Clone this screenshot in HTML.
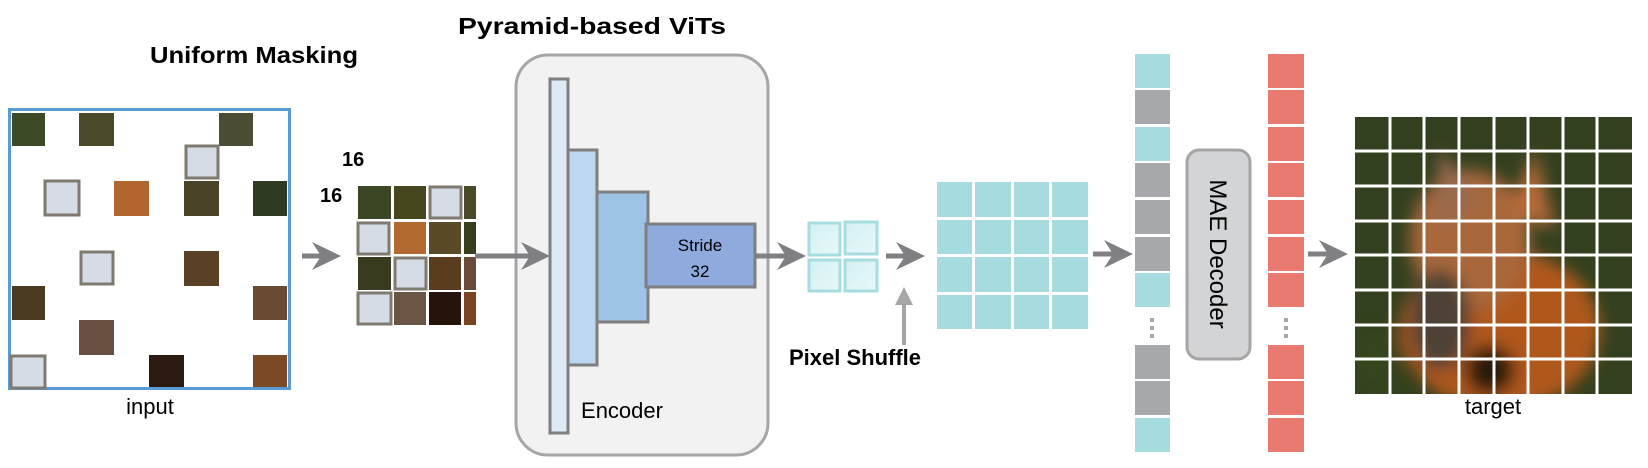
<!DOCTYPE html>
<html><head><meta charset="utf-8"><style>html,body{margin:0;padding:0;background:#fff}svg{display:block}text{font-family:"Liberation Sans",sans-serif}</style></head>
<body>
<svg width="1648" height="468" viewBox="0 0 1648 468" xmlns="http://www.w3.org/2000/svg">
<defs>
<linearGradient id="lg" x1="0" y1="0" x2="1" y2="1"><stop offset="0" stop-color="#d3f0f2"/><stop offset="1" stop-color="#e8f8f9"/></linearGradient>
<clipPath id="tc"><rect x="1355" y="117" width="277" height="277"/></clipPath>
<filter id="bl"><feGaussianBlur stdDeviation="8"/></filter>
</defs>

<text x="150" y="63" font-size="23" font-weight="bold" textLength="208" lengthAdjust="spacingAndGlyphs">Uniform Masking</text>
<text x="458" y="34" font-size="23" font-weight="bold" textLength="268" lengthAdjust="spacingAndGlyphs">Pyramid-based ViTs</text>

<rect x="9.5" y="109.5" width="280" height="279" fill="#fff" stroke="#5b9bd5" stroke-width="3"/>
<g>
<rect x="12" y="113" width="33" height="33" fill="#3d4a26"/>
<rect x="79" y="113" width="35" height="33" fill="#4a4a28"/>
<rect x="219" y="113" width="34" height="33" fill="#4b4c34"/>
<rect x="114" y="181" width="35" height="35" fill="#b0662e"/>
<rect x="184" y="181" width="35" height="35" fill="#4a4226"/>
<rect x="253" y="181" width="34" height="35" fill="#2f3a22"/>
<rect x="184" y="251" width="35" height="35" fill="#5a4024"/>
<rect x="12" y="286" width="33" height="34" fill="#4a3a22"/>
<rect x="253" y="286" width="34" height="34" fill="#6a4a30"/>
<rect x="79" y="320" width="35" height="35" fill="#6a5040"/>
<rect x="149" y="355" width="35" height="32" fill="#2a1a10"/>
<rect x="253" y="355" width="34" height="32" fill="#7a4a26"/>
</g>
<g fill="#d6dce5" stroke="#7f7a70" stroke-width="3">
<rect x="186" y="146" width="32" height="32"/>
<rect x="45" y="181" width="34" height="34"/>
<rect x="81" y="252" width="32" height="32"/>
<rect x="11" y="356" width="34" height="32"/>
</g>
<text x="150" y="414" font-size="22" text-anchor="middle">input</text>

<text x="342" y="166" font-size="20" font-weight="bold">16</text>
<text x="320" y="202" font-size="20" font-weight="bold">16</text>
<g>
<rect x="358" y="186" width="33" height="33" fill="#3b4624"/>
<rect x="394" y="186" width="32" height="33" fill="#46461f"/>
<rect x="464" y="186" width="12" height="33" fill="#4a4a2a"/>
<rect x="394" y="222" width="32" height="32" fill="#b36a30"/>
<rect x="429" y="222" width="32" height="32" fill="#5a4a26"/>
<rect x="464" y="222" width="12" height="32" fill="#36401e"/>
<rect x="358" y="257" width="33" height="33" fill="#3a3a1e"/>
<rect x="429" y="257" width="32" height="33" fill="#5c3c1e"/>
<rect x="464" y="257" width="12" height="33" fill="#6a4a3a"/>
<rect x="394" y="292" width="32" height="33" fill="#6a5444"/>
<rect x="429" y="292" width="32" height="33" fill="#24140c"/>
<rect x="464" y="292" width="12" height="33" fill="#7a4422"/>
</g>
<g fill="#d6dce5" stroke="#7f7a70" stroke-width="3">
<rect x="430" y="187" width="31" height="31"/>
<rect x="358" y="223" width="31" height="31"/>
<rect x="395" y="258" width="31" height="31"/>
<rect x="358" y="293" width="33" height="31"/>
</g>

<rect x="516" y="55" width="252" height="400" rx="32" fill="#f2f2f2" stroke="#a6a6a6" stroke-width="3"/>

<g fill="#7f7f84" stroke="none">
<rect x="302" y="253.5" width="24" height="5"/><path d="M341,256 L312,242 L321,256 L312,270 Z"/>
<rect x="475" y="253.5" width="62" height="5"/><path d="M550,256 L521,242 L530,256 L521,270 Z"/>
<rect x="755" y="253.5" width="36" height="5"/><path d="M806,256 L777,242 L786,256 L777,270 Z"/>
<rect x="886" y="253.5" width="25" height="5"/><path d="M925,256 L896,242 L905,256 L896,270 Z"/>
<rect x="1093" y="251.5" width="26" height="5"/><path d="M1133,254 L1104,240 L1113,254 L1104,268 Z"/>
<rect x="1308" y="251.5" width="26" height="5"/><path d="M1348,254 L1319,240 L1328,254 L1319,268 Z"/>
</g>

<rect x="550" y="79" width="18" height="354" fill="#dde9f5" stroke="#7f7f7f" stroke-width="3"/>
<rect x="568" y="150" width="29" height="215" fill="#bdd7ee" stroke="#7f7f7f" stroke-width="3"/>
<rect x="597" y="192" width="51" height="130" fill="#9dc3e6" stroke="#7f7f7f" stroke-width="3"/>
<rect x="646" y="224" width="109" height="63" fill="#8faadc" stroke="#7f7f7f" stroke-width="3"/>
<text x="700" y="251" font-size="17" text-anchor="middle">Stride</text>
<text x="700" y="277" font-size="17" text-anchor="middle">32</text>
<text x="622" y="418" font-size="22" text-anchor="middle">Encoder</text>

<g fill="url(#lg)" stroke="#a5dde0" stroke-width="3">
<rect x="809" y="223" width="31" height="32"/>
<rect x="845" y="222" width="32" height="32"/>
<rect x="809" y="260" width="31" height="31"/>
<rect x="845" y="260" width="32" height="31"/>
</g>

<rect x="902" y="300" width="4" height="45" fill="#a6a6a6"/>
<path d="M895,305 L904,287 L913,305 Z" fill="#a6a6a6"/>
<text x="855" y="365" font-size="22" font-weight="bold" text-anchor="middle">Pixel Shuffle</text>

<g fill="#a6dcdf">
<rect x="937" y="182" width="35" height="35"/><rect x="975" y="182" width="36" height="35"/><rect x="1014" y="182" width="35" height="35"/><rect x="1052" y="182" width="36" height="35"/>
<rect x="937" y="220" width="35" height="34"/><rect x="975" y="220" width="36" height="34"/><rect x="1014" y="220" width="35" height="34"/><rect x="1052" y="220" width="36" height="34"/>
<rect x="937" y="257" width="35" height="35"/><rect x="975" y="257" width="36" height="35"/><rect x="1014" y="257" width="35" height="35"/><rect x="1052" y="257" width="36" height="35"/>
<rect x="937" y="295" width="35" height="34"/><rect x="975" y="295" width="36" height="34"/><rect x="1014" y="295" width="35" height="34"/><rect x="1052" y="295" width="36" height="34"/>
</g>

<g>
<rect x="1135" y="54" width="35" height="34" fill="#a6dcdf"/>
<rect x="1135" y="90" width="35" height="34" fill="#a7a8ac"/>
<rect x="1135" y="127" width="35" height="34" fill="#a6dcdf"/>
<rect x="1135" y="163" width="35" height="34" fill="#a7a8ac"/>
<rect x="1135" y="200" width="35" height="34" fill="#a7a8ac"/>
<rect x="1135" y="237" width="35" height="34" fill="#a7a8ac"/>
<rect x="1135" y="273" width="35" height="34" fill="#a6dcdf"/>
<rect x="1135" y="345" width="35" height="34" fill="#a7a8ac"/>
<rect x="1135" y="381" width="35" height="34" fill="#a7a8ac"/>
<rect x="1135" y="418" width="35" height="34" fill="#a6dcdf"/>
</g>
<g fill="#a7a8ac"><rect x="1150" y="318" width="4" height="4"/><rect x="1150" y="326" width="4" height="4"/><rect x="1150" y="334" width="4" height="4"/></g>

<rect x="1187" y="150" width="63" height="209" rx="12" fill="#d3d4d6" stroke="#a5a5a5" stroke-width="3"/>
<text transform="translate(1210,254) rotate(90)" font-size="24" text-anchor="middle">MAE  Decoder</text>

<g fill="#e87a70">
<rect x="1268" y="54" width="36" height="34"/><rect x="1268" y="90" width="36" height="34"/><rect x="1268" y="127" width="36" height="34"/><rect x="1268" y="163" width="36" height="34"/><rect x="1268" y="200" width="36" height="34"/><rect x="1268" y="237" width="36" height="34"/><rect x="1268" y="273" width="36" height="34"/>
<rect x="1268" y="345" width="36" height="34"/><rect x="1268" y="381" width="36" height="34"/><rect x="1268" y="418" width="36" height="34"/>
</g>
<g fill="#a7a8ac"><rect x="1284" y="318" width="4" height="4"/><rect x="1284" y="326" width="4" height="4"/><rect x="1284" y="334" width="4" height="4"/></g>

<g clip-path="url(#tc)">
<rect x="1355" y="117" width="277" height="277" fill="#33401f"/>
<g filter="url(#bl)">
<ellipse cx="1500" cy="330" rx="100" ry="80" fill="#b0581f"/>
<ellipse cx="1470" cy="240" rx="60" ry="70" fill="#a8683a"/>
<path d="M1435,230 L1440,150 L1480,200 Z" fill="#9a6a50"/>
<path d="M1510,210 L1535,150 L1555,230 Z" fill="#b86a38"/>
<ellipse cx="1440" cy="320" rx="30" ry="50" fill="#4e4234"/>
<ellipse cx="1490" cy="370" rx="25" ry="25" fill="#2a1a10"/>
<rect x="1355" y="330" width="40" height="64" fill="#34441e"/>
</g>
</g>
<g stroke="#fff" stroke-width="3">
<line x1="1390" y1="117" x2="1390" y2="394"/><line x1="1424" y1="117" x2="1424" y2="394"/><line x1="1459" y1="117" x2="1459" y2="394"/><line x1="1494" y1="117" x2="1494" y2="394"/><line x1="1528" y1="117" x2="1528" y2="394"/><line x1="1563" y1="117" x2="1563" y2="394"/><line x1="1597" y1="117" x2="1597" y2="394"/>
<line x1="1355" y1="151" x2="1632" y2="151"/><line x1="1355" y1="186" x2="1632" y2="186"/><line x1="1355" y1="221" x2="1632" y2="221"/><line x1="1355" y1="255" x2="1632" y2="255"/><line x1="1355" y1="290" x2="1632" y2="290"/><line x1="1355" y1="325" x2="1632" y2="325"/><line x1="1355" y1="359" x2="1632" y2="359"/>
</g>
<text x="1493" y="414" font-size="22" text-anchor="middle">target</text>
</svg>
</body></html>
